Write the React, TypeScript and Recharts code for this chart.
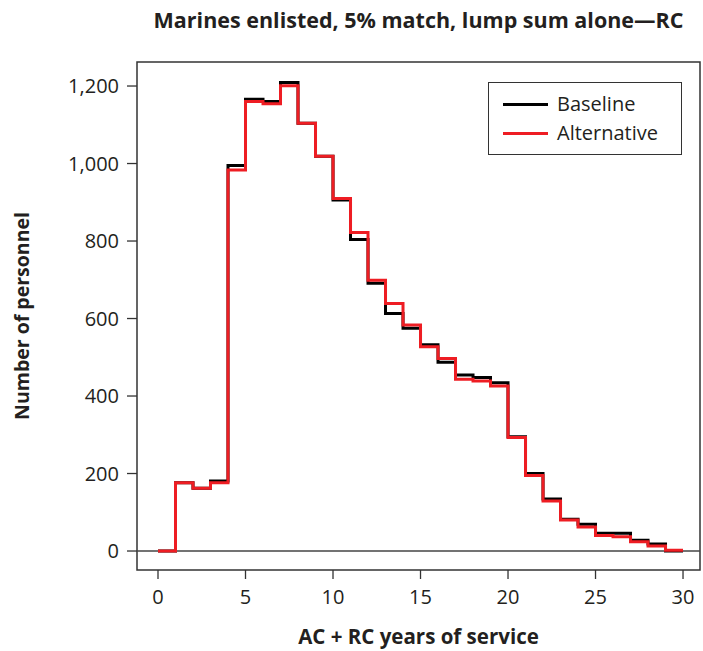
import React from "react";
import {
  LineChart,
  Line,
  XAxis,
  YAxis,
  ReferenceLine,
  ReferenceArea,
  Legend,
} from "recharts";

const years = [
  0, 1, 2, 3, 4, 5, 6, 7, 8, 9, 10, 11, 12, 13, 14, 15, 16, 17, 18, 19, 20, 21,
  22, 23, 24, 25, 26, 27, 28, 29, 30,
];
const baseline = [
  0, 176, 162, 181, 995, 1166, 1160, 1209, 1104, 1019, 906, 804, 691, 613, 575,
  532, 487, 454, 448, 434, 295, 200, 134, 82, 69, 46, 46, 28, 18, 0,
];
const alternative = [
  0, 176, 162, 176, 983, 1160, 1154, 1201, 1104, 1019, 910, 822, 699, 639, 583,
  527, 497, 443, 439, 426, 293, 195, 129, 80, 62, 40, 37, 24, 13, 2,
];
const xTicks = [0, 5, 10, 15, 20, 25, 30];
const yTicks = [0, 200, 400, 600, 800, 1000, 1200];

const title = "Marines enlisted, 5% match, lump sum alone\u2014RC";
const xLabel = "AC + RC years of service";
const yLabel = "Number of personnel";

const data = years.map((y) => ({
  year: y,
  baseline: baseline[Math.min(y, baseline.length - 1)],
  alternative: alternative[Math.min(y, alternative.length - 1)],
}));

const FONT = "'Open Sans', sans-serif";
const TEXT = "#231f20";
const X_DOMAIN: [number, number] = [-1.2, 30.97];
const Y_DOMAIN: [number, number] = [-49, 1262];

const LegendBox = () => (
  <div
    style={{
      position: "relative",
      border: "1.5px solid #333",
      width: 194,
      height: 73,
      boxSizing: "border-box",
      fontFamily: FONT,
      fontSize: 20,
      color: TEXT,
      background: "#fff",
    }}
  >
    {[
      { name: "Baseline", color: "#000000" },
      { name: "Alternative", color: "#ee1d23" },
    ].map((it, i) => (
      <div
        key={it.name}
        style={{
          position: "absolute",
          left: 14,
          top: 9 + i * 29,
          display: "flex",
          alignItems: "center",
          height: 24,
        }}
      >
        <div style={{ width: 45, height: 3, background: it.color }} />
        <span style={{ marginLeft: 9, lineHeight: "24px", whiteSpace: "nowrap" }}>{it.name}</span>
      </div>
    ))}
  </div>
);

export default function App() {
  return (
    <div style={{ position: "absolute", left: 0, top: 0, width: 703, height: 651, background: "#fff" }}>
      <div
        style={{
          position: "absolute",
          left: 137,
          width: 563,
          top: 6,
          textAlign: "center",
          fontFamily: FONT,
          fontWeight: 700,
          fontSize: 21.5,
          lineHeight: "28px",
          color: TEXT,
          whiteSpace: "nowrap",
        }}
      >
        {title}
      </div>
      <LineChart
        width={703}
        height={651}
        data={data}
        margin={{ top: 62, right: 3, bottom: 51, left: 0 }}
      >
        <XAxis
          dataKey="year"
          type="number"
          domain={X_DOMAIN}
          allowDataOverflow
          ticks={xTicks}
          interval={0}
          height={30}
          axisLine={false}
          tickSize={9}
          tickMargin={11}
          tickLine={{ stroke: "#333", strokeWidth: 1.3 }}
          tick={{ fontFamily: FONT, fontSize: 20, fill: TEXT }}
          label={{
            value: xLabel,
            position: "bottom",
            offset: 29,
            style: { fontFamily: FONT, fontSize: 20.5, fontWeight: 700, fill: TEXT },
          }}
        />
        <YAxis
          type="number"
          domain={Y_DOMAIN}
          allowDataOverflow
          ticks={yTicks}
          interval={0}
          width={137}
          axisLine={false}
          tickSize={10}
          tickMargin={8}
          tickLine={{ stroke: "#333", strokeWidth: 1.3 }}
          tickFormatter={(v: number) => v.toLocaleString("en-US")}
          tick={{ fontFamily: FONT, fontSize: 20, fill: TEXT }}
          label={{
            value: yLabel,
            angle: -90,
            position: "insideLeft",
            offset: 22,
            style: {
              fontFamily: FONT,
              fontSize: 19.5,
              fontWeight: 700,
              fill: TEXT,
              textAnchor: "middle",
            },
          }}
        />
        <ReferenceArea
          x1={X_DOMAIN[0]}
          x2={X_DOMAIN[1]}
          y1={Y_DOMAIN[0]}
          y2={Y_DOMAIN[1]}
          fill="none"
          stroke="#333"
          strokeWidth={1.5}
          ifOverflow="visible"
        />
        <ReferenceLine y={0} stroke="#444" strokeWidth={1.3} />
        <Legend
          verticalAlign="middle"
          align="center"
          layout="horizontal"
          content={() => <LegendBox />}
          wrapperStyle={{ position: "absolute", left: 488, top: 82, width: 194, height: 73 }}
        />
        <Line
          type="stepAfter"
          dataKey="baseline"
          name="Baseline"
          stroke="#000000"
          strokeWidth={3}
          dot={false}
          isAnimationActive={false}
        />
        <Line
          type="stepAfter"
          dataKey="alternative"
          name="Alternative"
          stroke="#ee1d23"
          strokeWidth={3}
          dot={false}
          isAnimationActive={false}
        />
      </LineChart>
    </div>
  );
}
